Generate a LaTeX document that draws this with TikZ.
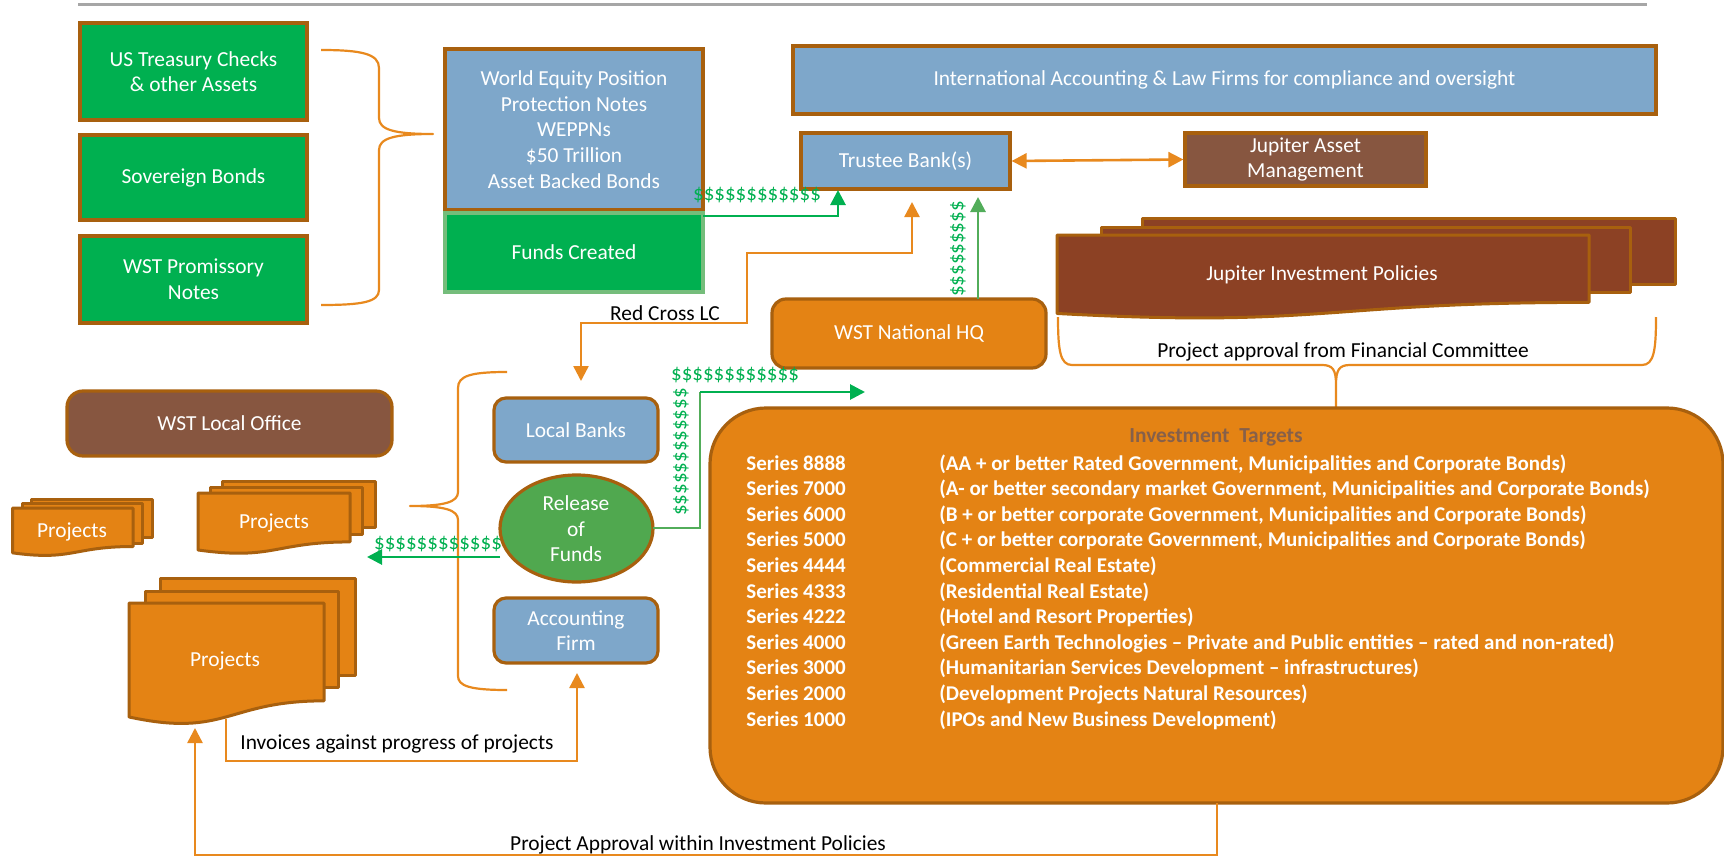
\documentclass[tikz,border=0pt]{standalone}
\usepackage{fontspec}
\setmainfont{Carlito}
\usetikzlibrary{arrows.meta,shapes.geometric}

\definecolor{gbox}{HTML}{00B050}
\definecolor{bbox}{HTML}{7EA7CA}
\definecolor{obox}{HTML}{E48314}
\definecolor{edge}{HTML}{A8600E}
\definecolor{brownA}{HTML}{875640}
\definecolor{brownB}{HTML}{8C4124}
\definecolor{relg}{HTML}{50A84F}
\definecolor{lineo}{HTML}{E8891E}
\definecolor{money}{HTML}{00B050}
\definecolor{softg}{HTML}{52AD5A}
\definecolor{titlebrown}{HTML}{86604A}
\definecolor{rule}{HTML}{A6A6A6}

% page with a wavy lower edge: style, x, y, width, height
\newcommand\wavedoc[5]{\path[#1] (#2,#3) -- ({#2+#4},#3) -- ({#2+#4},{#3+0.802*#5})
  .. controls ({#2+0.5*#4},{#3+0.802*#5}) and ({#2+0.5*#4},{#3+1.107*#5}) .. (#2,{#3+0.934*#5}) -- cycle;}
% sheet behind the front page: style, x, y, width, height
\newcommand\backsheet[5]{\path[#1] (#2,#3) rectangle ({#2+#4},{#3+#5});}
\newcommand\dlrs{\$\$\$\$\$\$\$\$\$\$\$\$}
\newcommand\dlrsshort{\$\$\$\$\$\$\$\$\$}

\tikzset{
  every node/.style={font=\fontsize{10.7}{12.8}\selectfont},
  boxbase/.style={draw=edge, line width=1.6pt, inner sep=0pt, text=white, align=center},
  sz/.style 2 args={minimum width=#1pt, minimum height=#2pt},
  gbx/.style={boxbase, fill=gbox},
  bbx/.style={boxbase, fill=bbox},
  obx/.style={boxbase, fill=obox},
  brbx/.style={boxbase, fill=brownA},
  sheetO/.style={fill=obox, draw=edge, line width=1.5pt, line join=round},
  sheetB/.style={fill=brownB, draw=edge, line width=1.5pt, line join=round},
  wtxt/.style={text=white, align=center, inner sep=0pt},
  ktxt/.style={text=black, align=center, inner sep=0pt},
  money/.style={text=money, inner sep=0pt, font=\fontsize{10.5}{12.8}\selectfont},
  brace/.style={draw=lineo, line width=1.1pt, line join=round},
  oline/.style={draw=lineo, line width=1.2pt},
  gline/.style={draw=money, line width=1.4pt},
  >={Triangle[length=7.5pt,width=7.5pt]},
  row/.style={text=white, inner sep=0pt, anchor=base west, font=\fontsize{10.5}{12.8}\selectfont\bfseries},
}

\begin{document}
\begin{tikzpicture}[x=0.5pt,y=-0.5pt]
\useasboundingbox (0,0) rectangle (1724,856);
\fill[white] (0,0) rectangle (1724,856);

% header rule
\draw[rule, line width=1.5pt] (78,5) -- (1647,5);

% asset boxes
\node[gbx, sz={113.5}{48.5}] (ust) at (193.5,71.5) {US Treasury Checks\\\& other Assets};
\node[gbx, sz={113.5}{42.5}] (sov) at (193.5,177.5) {Sovereign Bonds};
\node[gbx, sz={113.5}{43.5}] (prom) at (193.5,279.5) {WST Promissory\\Notes};

% brace gathering the assets
\draw[brace] (321,50) .. controls (362,50) and (379,54) .. (379,68) -- (379,118)
  .. controls (379,130) and (395,134) .. (433,134)
  .. controls (395,134) and (379,138) .. (379,150) -- (379,290)
  .. controls (379,302) and (362,305) .. (321,305);

% notes and funds
\node[bbx, sz={129}{80.5}] (wep) at (574,129.5) {World Equity Position\\Protection Notes\\WEPPNs\\\$50 Trillion\\Asset Backed Bonds};
\node[boxbase, fill=gbox, draw=softg!80!white, sz={129}{39.5}] (funds) at (574,252.5) {Funds Created};

% oversight and banking
\node[bbx, sz={431.5}{34}] (intl) at (1224.5,80) {International Accounting \& Law Firms for compliance and oversight};
\node[bbx, sz={104.5}{28}] (trustee) at (905.5,161) {Trustee Bank(s)};
\node[brbx, sz={120.5}{26.5}] (jam) at (1305.5,159.5) {Jupiter Asset\\Management};
\node[obx, rounded corners=7pt, sz={137}{34.5}] (hq) at (909,333.5) {WST National HQ};

% investment policies stack
\backsheet{sheetB}{1142}{218}{533}{66}
\backsheet{sheetB}{1101}{227}{529}{65}
\wavedoc{sheetB}{1057}{235}{532}{84}
\node[wtxt] (jip) at (1322,275) {Jupiter Investment Policies};

% committee brace
\draw[brace] (1058,317) .. controls (1058,350) and (1060,365) .. (1072,365) -- (1322,365)
  .. controls (1333,365) and (1336,370) .. (1336,385) -- (1336,410) -- (1336,385)
  .. controls (1336,370) and (1339,365) .. (1350,365) -- (1642,365)
  .. controls (1654,365) and (1656,350) .. (1656,317);
\node[ktxt] (pafc) at (1343,352) {Project approval from Financial Committee};

% local level
\node[brbx, rounded corners=8pt, sz={162.5}{32.5}] (local) at (229.5,423.5) {WST Local Office};
\node[bbx, rounded corners=6pt, sz={82}{32}] (lbanks) at (576,430) {Local Banks};
\node[draw=edge, line width=1.6pt, fill=relg, ellipse, inner sep=0pt, sz={76.5}{53.5}] (release) at (576.5,528.5) {};
\node[wtxt] (reltxt) at (576,529) {Release\\of\\Funds};
\node[bbx, rounded corners=6pt, sz={82}{32.5}] (acct) at (576,630.5) {Accounting\\Firm};

% brace around local partners
\draw[brace] (507,372) .. controls (470,372) and (458,376) .. (458,388) -- (458,492)
  .. controls (458,502) and (445,506) .. (410,506)
  .. controls (445,506) and (458,510) .. (458,520) -- (458,676)
  .. controls (458,686) and (470,690) .. (507,690);

% project stacks
\backsheet{sheetO}{31}{499}{121}{38}
\backsheet{sheetO}{22}{503}{120}{40}
\wavedoc{sheetO}{12.5}{508}{120.5}{48}
\node[wtxt] (projS) at (72,532) {Projects};

\backsheet{sheetO}{222}{481}{153}{46}
\backsheet{sheetO}{210}{487}{152}{47}
\wavedoc{sheetO}{198}{493}{152}{61}
\node[wtxt] (projM) at (274,523) {Projects};

\backsheet{sheetO}{160}{578}{195}{97}
\backsheet{sheetO}{145}{591}{193}{96}
\wavedoc{sheetO}{129}{603}{195}{122}
\node[wtxt] (projL) at (225,661) {Projects};

% investment targets panel
\node[obx, rounded corners=28pt, sz={506.5}{197.5}] (tgt) at (1216.5,605.5) {};
\node[text=titlebrown, inner sep=0pt, font=\fontsize{10.7}{12.8}\selectfont\bfseries] (tgtitle) at (1216,437) {Investment\ \ Targets};
\foreach \i/\s/\d in {
  0/8888/{(AA + or better Rated Government, Municipalities and Corporate Bonds)},
  1/7000/{(A- or better secondary market Government, Municipalities and Corporate Bonds)},
  2/6000/{(B + or better corporate Government, Municipalities and Corporate Bonds)},
  3/5000/{(C + or better corporate Government, Municipalities and Corporate Bonds)},
  4/4444/{(Commercial Real Estate)},
  5/4333/{(Residential Real Estate)},
  6/4222/{(Hotel and Resort Properties)},
  7/4000/{(Green Earth Technologies – Private and Public entities – rated and non-rated)},
  8/3000/{(Humanitarian Services Development – infrastructures)},
  9/2000/{(Development Projects Natural Resources)},
  10/1000/{(IPOs and New Business Development)}} {
  \node[row] (ser\i) at (746,{470+25.6*\i}) {Series \s};
  \node[row] (des\i) at (939,{470+25.6*\i}) {\d};
}

% connector end points
\coordinate (fundsOut) at (703,216);
\coordinate (trIn) at (838,190);
\coordinate (trRC) at (912,202);
\coordinate (lbIn) at (581,381);
\coordinate (hqOut) at (978,299);
\coordinate (trHQ) at (978,197);
\coordinate (relOut) at (653,528);
\coordinate (relTip) at (865,392);
\coordinate (relLeft) at (500,557);
\coordinate (projTip) at (367,557);
\coordinate (invStart) at (226,719);
\coordinate (acIn) at (577,673);
\coordinate (tgtOut) at (1217,803);
\coordinate (prTip) at (195,728);

% funds to the trustee bank
\draw[gline, ->] (fundsOut) -- (trIn |- fundsOut) -- (trIn);
\node[money] (m1) at (757,195) {\dlrs};

% trustee bank and asset manager
\draw[oline, line width=1.3pt, <->] (trustee.east) -- (jam.west);

% Red Cross letter of credit
\draw[oline, <->] (lbIn) -- (581,323) -- (747,323) -- (747,253) -- (912,253) -- (trRC);
\node[ktxt] (rclc) at (665,313) {Red Cross LC};

% national HQ to trustee bank
\draw[draw=softg, line width=1.4pt, ->] (hqOut) -- (trHQ);
\node[money, rotate=90] (m2) at (958,249) {\dlrsshort};

% release of funds towards the national level
\draw[draw=softg, line width=1pt] (relOut) -- (700,528) -- (700,392);
\draw[gline, ->] (700,392) -- (relTip);
\node[money] (m3) at (735,375) {\dlrs};
\node[money, rotate=90] (m4) at (681,452) {\dlrs};

% release of funds to the projects
\draw[gline, ->] (relLeft) -- (projTip);
\node[money] (m5) at (438,544) {\dlrs};

% invoices to the accounting firm
\draw[oline, ->] (invStart) -- (226,761) -- (577,761) -- (acIn);
\node[ktxt] (inv) at (397,744) {Invoices against progress of projects};

% approval back to the projects
\draw[oline, ->] (tgtOut) -- (1217,855) -- (195,855) -- (prTip);
\node[ktxt] (pawip) at (698,845) {Project Approval within Investment Policies};

\end{tikzpicture}
\end{document}
